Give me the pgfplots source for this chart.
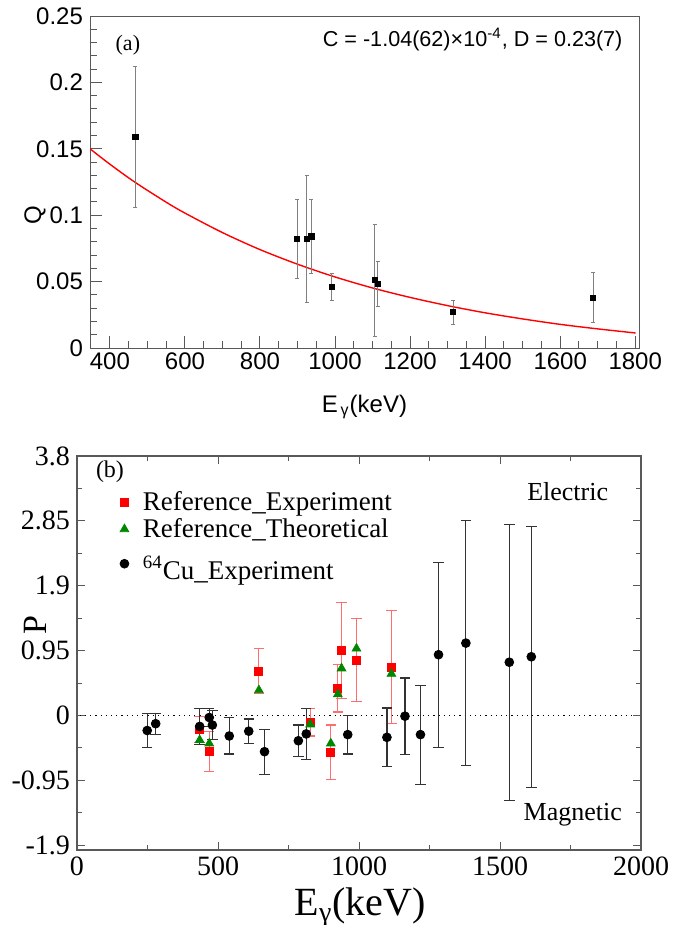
\documentclass[border=0pt]{standalone}
\usepackage{pgfplots}
\pgfplotsset{compat=1.18}
\usepackage{fontspec}
\setmainfont{Liberation Serif}
\newfontfamily\sansf{Liberation Sans}

\definecolor{frame}{gray}{0.35}
\definecolor{errred}{RGB}{255,110,110}
\definecolor{dkgreen}{RGB}{0,135,0}

\begin{document}
\begin{tikzpicture}[x=1pt,y=1pt]
\path[use as bounding box] (0,0) rectangle (348,-462.5);

% (a) Q versus energy
\begin{axis}[
  at={(45pt,-174pt)}, anchor=south west, scale only axis,
  width=274.5pt, height=166pt,
  xmin=347, xmax=1810, ymin=0, ymax=0.25,
  xtick={400,600,800,1000,1200,1400,1600,1800},
  xticklabels={400,600,800,1000,1200,1400,1600,1800},
  ytick={0,0.05,0.1,0.15,0.2,0.25},
  yticklabels={0,0.05,0.1,0.15,0.2,0.25},
  minor x tick num=3, minor y tick num=4,
  tick align=inside, xtick pos=left, ytick pos=left,
  axis line style={frame, line width=0.5pt},
  major tick length=6pt, minor tick length=3.3pt,
  every tick/.style={frame, line width=0.5pt},
  tick label style={font=\sansf\fontsize{12}{14}\selectfont},
  xticklabel style={yshift=1pt},
  xlabel={E\textsubscript{\,γ}(keV)}, ylabel={Q},
  label style={font=\sansf\fontsize{12}{14}\selectfont},
  xlabel style={at={(axis description cs:0.5,-0.178)}, anchor=center},
  ylabel style={at={(axis description cs:-0.10,0.40)}, anchor=center},
]
\addplot[red, line width=0.7pt, smooth] coordinates {
  (347,0.150) (400,0.1384) (467,0.1248) (550,0.1098) (600,0.1016)
  (700,0.0869) (800,0.0741) (900,0.0631) (1000,0.0535) (1100,0.0452)
  (1200,0.0381) (1300,0.0319) (1400,0.0265) (1500,0.0219) (1600,0.0178)
  (1700,0.0144) (1801,0.0113)};
\addplot[only marks, mark=square*, mark size=1.3pt, black,
  error bars/.cd, y dir=both, y explicit,
  error bar style={gray, line width=0.5pt},
  error mark options={rotate=90, mark size=1pt, gray, line width=0.5pt}]
  coordinates {
  (468,0.159) +- (0,0.053)
  (899,0.082) +- (0,0.030)
  (924,0.082) +- (0,0.048)
  (937,0.084) +- (0,0.028)
  (991,0.046) +- (0,0.010)
  (1106,0.051) +- (0,0.042)
  (1114,0.048) +- (0,0.017)
  (1315,0.027) +- (0,0.009)
  (1688,0.038) +- (0,0.019)};
\node[font=\fontsize{11}{13}\selectfont] at (axis description cs:0.069,0.913) {(a)};
\node[font=\sansf\fontsize{10.8}{13}\selectfont] at (axis description cs:0.697,0.928)
  {C = -1.04(62)×10\textsuperscript{-4}, D = 0.23(7)};
\end{axis}

% (b) polarization
\begin{axis}[
  at={(38.5pt,-425pt)}, anchor=south west, scale only axis,
  width=282pt, height=197pt,
  xmin=0, xmax=2000, ymin=-1.97, ymax=3.8,
  xtick={0,500,1000,1500,2000},
  xticklabels={0,500,1000,1500,2000},
  minor xtick={250,750,1250,1750},
  ytick={-1.9,-0.95,0,0.95,1.9,2.85,3.8},
  yticklabels={-1.9,-0.95,0,0.95,1.9,2.85,3.8},
  minor ytick={-1.425,-0.475,0.475,1.425,2.375,3.325},
  tick align=inside,
  axis line style={frame, line width=0.6pt},
  major tick length=4pt, minor tick length=2.3pt,
  every tick/.style={frame, line width=0.5pt},
  tick label style={font=\fontsize{14}{16}\selectfont},
  xlabel={E\textsubscript{γ}(keV)}, ylabel={P},
  xlabel style={font=\fontsize{20}{22}\selectfont,
    at={(axis description cs:0.502,-0.146)}, anchor=center},
  ylabel style={font=\fontsize{17}{19}\selectfont,
    at={(axis description cs:-0.074,0.571)}, anchor=center},
  legend style={at={(axis description cs:0.065,0.932)}, anchor=north west,
    draw=none, fill=none, font=\fontsize{13.5}{15}\selectfont,
    row sep=-1.5pt, cells={anchor=west}},
]
\addplot[black, dotted, line width=0.6pt, forget plot] coordinates {(10,0) (1965,0)};
\addplot[only marks, mark=square*, mark size=2pt, red,
  error bars/.cd, y dir=both, y explicit,
  error bar style={errred, line width=0.6pt},
  error mark options={rotate=90, mark size=2.6pt, errred, line width=0.6pt}]
  coordinates {
  (435,-0.21) +- (0,0.19)
  (469,-0.53) +- (0,0.29)
  (645,0.65) +- (0,0.33)
  (827,-0.10) +- (0,0.20)
  (900,-0.54) +- (0,0.40)
  (925,0.40) +- (0,0.35)
  (938,0.95) +- (0,0.70)
  (991,0.81) +- (0,0.61)
  (1115,0.71) +- (0,0.83)};
\addlegendentry{\hspace{5pt}Reference\_Experiment}
\addplot[only marks, mark=triangle*, mark size=2.5pt, dkgreen] coordinates {
  (435,-0.36) (469,-0.41) (645,0.37) (827,-0.13) (900,-0.41)
  (925,0.31) (938,0.69) (991,0.98) (1115,0.61)};
\addlegendentry{\hspace{5pt}Reference\_Theoretical}
\addplot[only marks, mark=*, mark size=2.2pt, black,
  error bars/.cd, y dir=both, y explicit,
  error bar style={black!80, line width=0.6pt},
  error mark options={rotate=90, mark size=2.6pt, black!80, line width=0.6pt}]
  coordinates {
  (249,-0.22) +- (0,0.245)
  (279,-0.12) +- (0,0.155)
  (435,-0.16) +- (0,0.265)
  (469,-0.03) +- (0,0.13)
  (480,-0.14) +- (0,0.215)
  (540,-0.30) +- (0,0.265)
  (609,-0.23) +- (0,0.18)
  (665,-0.53) +- (0,0.33)
  (785,-0.37) +- (0,0.23)
  (813,-0.27) +- (0,0.375)
  (960,-0.28) +- (0,0.285)
  (1099,-0.32) +- (0,0.43)
  (1163,-0.01) +- (0,0.56)
  (1218,-0.28) +- (0,0.725)
  (1282,0.89) +- (0,1.355)
  (1379,1.06) +- (0,1.79)
  (1533,0.78) +- (0,2.02)
  (1611,0.86) +- (0,1.91)};
\addlegendentry{\hspace{5pt}\rule{0pt}{17pt}\textsuperscript{64}Cu\_Experiment}
\node[font=\fontsize{12}{14}\selectfont] at (axis description cs:0.0585,0.959) {(b)};
\node[font=\fontsize{13}{15}\selectfont] at (axis description cs:0.870,0.909) {Electric};
\node[font=\fontsize{13}{15}\selectfont] at (axis description cs:0.879,0.089) {Magnetic};
\end{axis}
\end{tikzpicture}
\end{document}
